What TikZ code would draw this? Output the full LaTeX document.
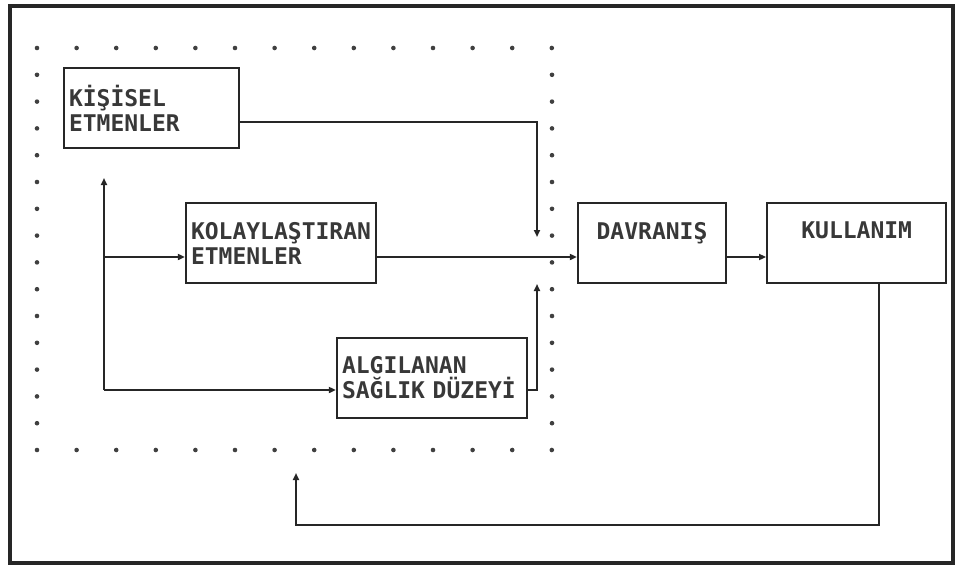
\documentclass[tikz,border=0pt]{standalone}
\usepackage{fontspec}
\setmonofont{DejaVu Sans Mono}
\usetikzlibrary{positioning,arrows.meta}

\begin{document}
\begin{tikzpicture}[
  x=1pt, y=-1pt,
  font=\ttfamily\bfseries\fontsize{23}{25}\selectfont,
  ink/.style={draw=black!85},
  box/.style={rectangle, ink, line width=2.2pt, minimum height=80pt, inner xsep=5pt, inner ysep=0pt, align=left, text=black!78},
  arr/.style={ink, line width=1.7pt, -{Triangle[length=7pt,width=6pt]}},
]
\useasboundingbox (0,0) rectangle (957,568);
\draw[ink, line width=3.5pt] (10,6) rectangle (953,563);

% dotted boundary
\foreach \i in {0,...,13} {
  \fill[black!75] (37+39.6*\i,48) circle (2.3pt);
  \fill[black!75] (37+39.6*\i,450) circle (2.3pt);
}
\foreach \j in {1,...,14} {
  \fill[black!75] (37,48+26.8*\j) circle (2.3pt);
  \fill[black!75] (552,48+26.8*\j) circle (2.3pt);
}

\node[box, text width=165pt] (kisisel) at (151.5,108) {KİŞİSEL\\ETMENLER};
\node[box, text width=180pt] (kolay) at (281,243) {KOLAYLAŞTIRAN\\ETMENLER};
\node[box, text width=180pt] (algi) at (432,378) {ALGILANAN\\SAĞLIK DÜZEYİ};
\node[box, text width=138pt, align=center] (davranis) at (652,243) {DAVRANIŞ\\\mbox{}};
\node[box, text width=169pt, align=center, right=39pt of davranis] (kullanim) {KULLANIM\\\mbox{}};

\coordinate (tipA) at (537,237);
\coordinate (tipB) at (537,284);
\coordinate (tipC) at (104,178);
\coordinate (trunk) at (104,390);
\coordinate (kolayin) at ([yshift=-14pt]kolay.west);
\coordinate (fbturn) at (296,525);
\coordinate (fbtip) at (296,473);

\draw[arr] ([yshift=-14pt]kisisel.east) -| (tipA);
\draw[arr] ([yshift=-14pt]kolay.east) -- ([yshift=-14pt]davranis.west);
\draw[arr] ([yshift=-12pt]algi.east) -| (tipB);
\draw[arr] ([yshift=-14pt]davranis.east) -- ([yshift=-14pt]kullanim.west);
\draw[arr] (trunk) -- (tipC);
\draw[arr] (trunk |- kolayin) -- (kolayin);
\draw[arr] (trunk) -- ([yshift=-12pt]algi.west);
\draw[arr] ([xshift=22pt]kullanim.south) |- (fbturn) -- (fbtip);
\end{tikzpicture}
\end{document}
